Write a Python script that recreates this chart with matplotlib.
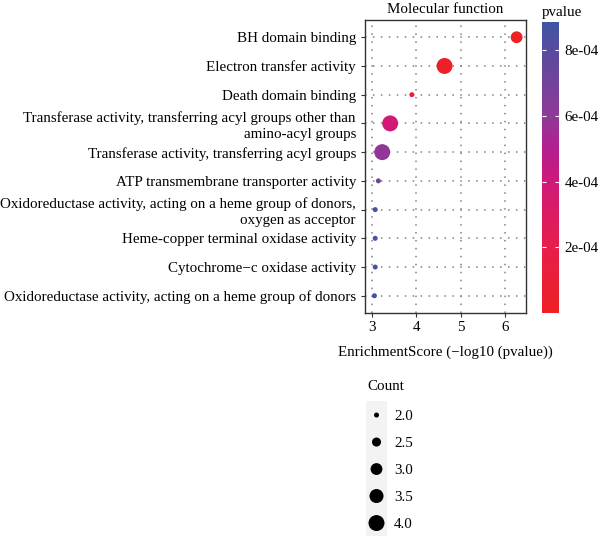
import numpy as np
import matplotlib
matplotlib.use("Agg")
import matplotlib.pyplot as plt
from matplotlib.colors import LinearSegmentedColormap, Normalize

plt.rcParams['font.family'] = ['Liberation Serif', 'DejaVu Serif']

# data, top row first
terms = [
    "BH domain binding",
    "Electron transfer activity",
    "Death domain binding",
    "Transferase activity, transferring acyl groups other than\namino-acyl groups",
    "Transferase activity, transferring acyl groups",
    "ATP transmembrane transporter activity",
    "Oxidoreductase activity, acting on a heme group of donors,\noxygen as acceptor",
    "Heme-copper terminal oxidase activity",
    "Cytochrome\u2212c oxidase activity",
    "Oxidoreductase activity, acting on a heme group of donors",
]
pvalue = [5.4e-7, 2.3e-5, 1.26e-4, 3.9e-4, 5.9e-4, 7.2e-4, 8.5e-4, 8.5e-4, 8.5e-4, 8.85e-4]
count = [3, 4, 2, 4, 4, 2, 2, 2, 2, 2]
count_levels = [2.0, 2.5, 3.0, 3.5, 4.0]
cbar_ticks = [2e-4, 4e-4, 6e-4, 8e-4]
cbar_labels = ["2e-04", "4e-04", "6e-04", "8e-04"]

pvalue = np.array(pvalue)
count = np.array(count, dtype=float)
score = -np.log10(pvalue)
ypos = np.arange(len(terms), 0, -1)

# red -> blue, sampled from the printed colour bar
cmap = LinearSegmentedColormap.from_list(
    "rb", [(0.0, "#EE2024"), (0.226, "#E61E4A"), (0.45, "#D0197A"),
           (0.56, "#B51E8E"), (0.68, "#8E3A98"), (0.9, "#5A4A9E"),
           (1.0, "#3F55A4")])
norm = Normalize(vmin=pvalue.min(), vmax=pvalue.max())


def size_of(c):
    # area scale, 2 -> 3.6pt, 4 -> 11.5pt diameter
    return 13 + (np.asarray(c) - 2) / 2 * (132 - 13)


fig = plt.figure(figsize=(6, 5.36), dpi=100)
W, H = 600, 536


def px_axes(x0, y0, x1, y1):
    return fig.add_axes([x0 / W, 1 - y1 / H, (x1 - x0) / W, (y1 - y0) / H])


fs = 10.8
ax = px_axes(365, 20, 526, 313)
for v in [3, 4, 5, 6]:
    ax.axvline(v, color='#808080', lw=1.1, ls=(0, (1, 4.2)), zorder=0)
for y in ypos:
    ax.axhline(y, color='#808080', lw=1.1, ls=(0, (1, 4.2)), zorder=0)

ax.scatter(score, ypos, s=size_of(count), c=pvalue, cmap=cmap, norm=norm,
           edgecolors='none', zorder=3)

ax.set_xlim(2.84, 6.48)
ax.set_ylim(0.4, len(terms) + 0.6)
ax.set_xticks([3, 4, 5, 6])
ax.set_yticks(ypos)
ax.set_yticklabels(terms, fontsize=fs, linespacing=1.3)
ax.tick_params(axis='both', length=3, width=0.8, color='#333333', labelsize=fs)
ax.tick_params(axis='x', pad=3)
for s in ax.spines.values():
    s.set_color('#333333')
    s.set_linewidth(1.0)
ax.set_xlabel("EnrichmentScore (\u2212log10 (pvalue))", fontsize=fs, labelpad=8)
ax.set_title("Molecular function", fontsize=fs, pad=5)

# colour bar
cax = px_axes(542, 22, 559, 313)
sm = plt.cm.ScalarMappable(norm=norm, cmap=cmap)
cb = fig.colorbar(sm, cax=cax)
cb.outline.set_visible(False)
cb.set_ticks(cbar_ticks)
cb.set_ticklabels(cbar_labels)
cax.tick_params(direction='in', length=3, width=0.8, color='white',
                left=True, right=True, labelsize=fs, pad=4)
cax.set_title("pvalue", fontsize=fs, loc='left', pad=4)

# size legend
lax = px_axes(366, 401, 387, 536)
lax.set_facecolor('#F3F3F3')
lax.scatter([0] * len(count_levels), count_levels, s=size_of(count_levels),
            c='black', edgecolors='none')
lax.set_xlim(-1, 1)
lax.set_ylim(4.24, 1.74)
lax.set_xticks([])
lax.yaxis.tick_right()
lax.set_yticks(count_levels)
lax.set_yticklabels([f"{v:.1f}" for v in count_levels])
lax.tick_params(axis='y', length=0, pad=5, labelsize=fs)
for s in lax.spines.values():
    s.set_visible(False)
fig.text(367 / W, 1 - 387 / H, "Count", fontsize=fs, va='center', ha='left')

fig.savefig("out.png", dpi=100)
